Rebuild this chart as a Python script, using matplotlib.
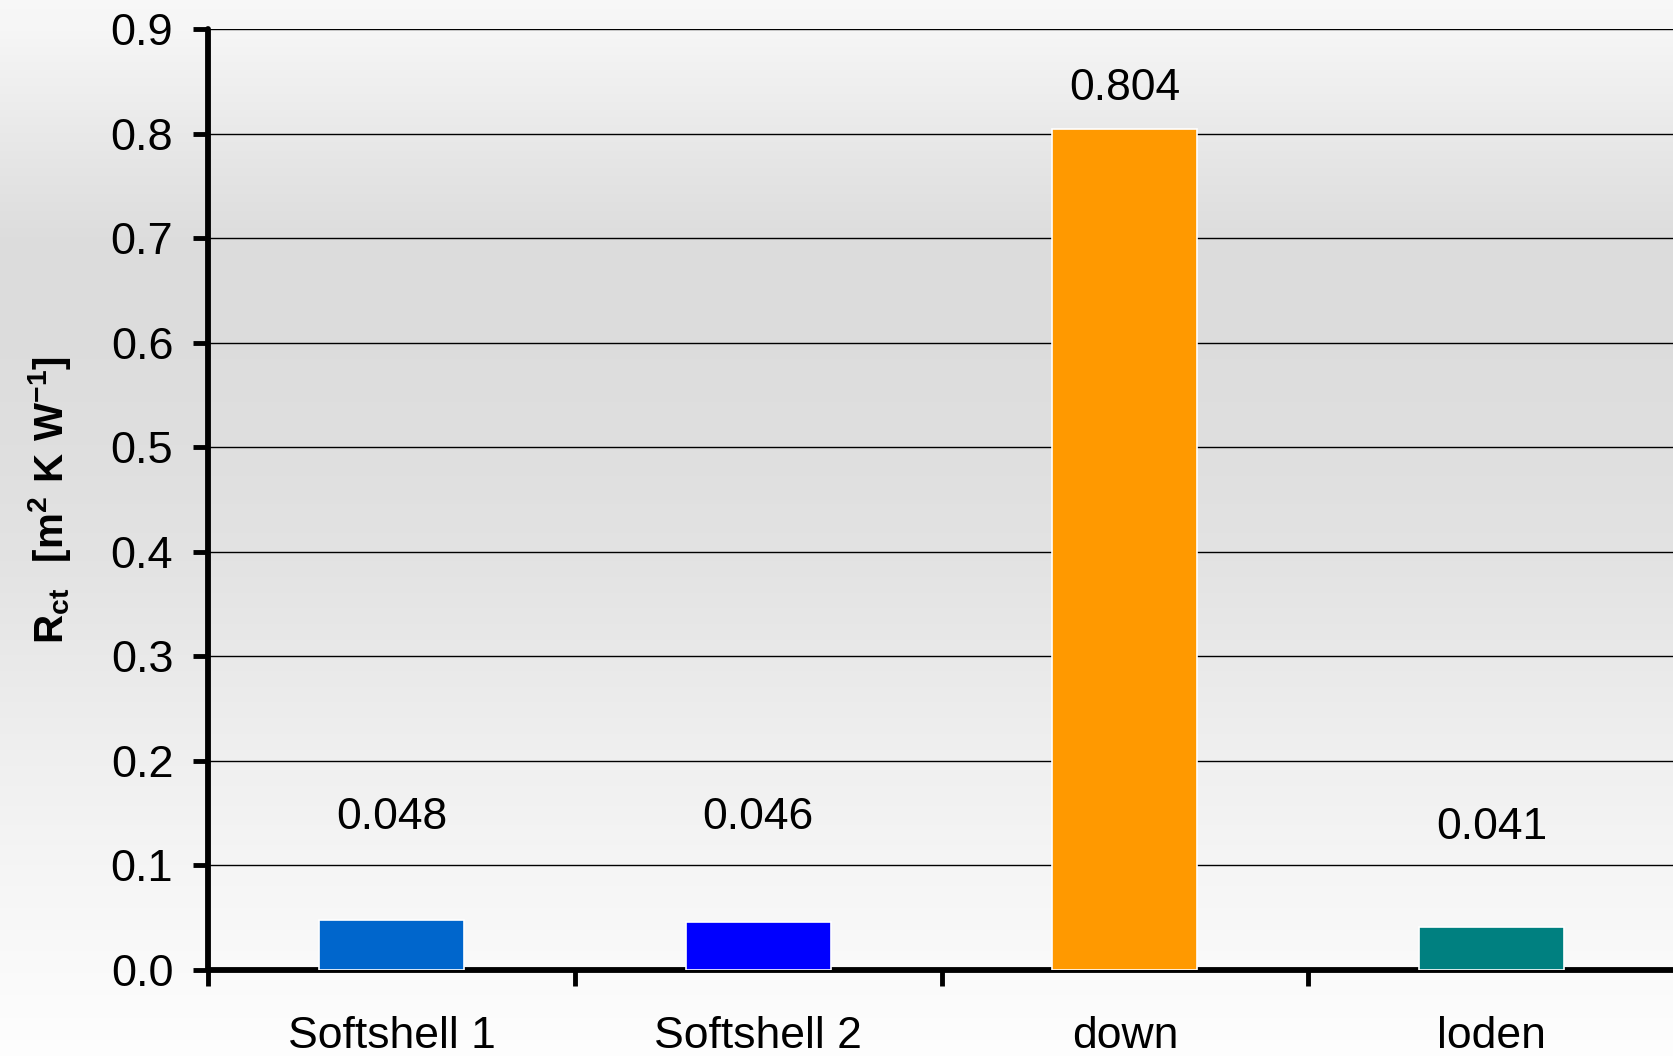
import numpy as np
import matplotlib
matplotlib.use("Agg")
import matplotlib.pyplot as plt

# Thermal resistance of the tested garments
categories = ["Softshell 1", "Softshell 2", "down", "loden"]
rct_values = [0.048, 0.046, 0.804, 0.041]
value_labels = ["0.048", "0.046", "0.804", "0.041"]
bar_colors = ["#0066CC", "#0000FF", "#FF9900", "#008080"]
y_ticks = [0.0, 0.1, 0.2, 0.3, 0.4, 0.5, 0.6, 0.7, 0.8, 0.9]

# vertical gap between each bar top and its value label (data units)
label_gaps = [0.098, 0.100, 0.039, 0.095]

plt.rcParams["font.family"] = ["Liberation Sans", "DejaVu Sans"]
plt.rcParams["mathtext.fontset"] = "custom"
plt.rcParams["mathtext.rm"] = "Liberation Sans"
plt.rcParams["mathtext.bf"] = "Liberation Sans:bold"

W, H = 1673, 1056
fig = plt.figure(figsize=(W / 100, H / 100), dpi=100)
fig.patch.set_facecolor("white")

# soft grey vertical gradient behind everything
bg = fig.add_axes([0, 0, 1, 1], zorder=-10)
stops_px = [0, 30, 130, 240, 340, 450, 560, 660, 760, 860, 970, 1056]
stops_val = [0.97, 0.965, 0.915, 0.865, 0.865, 0.875, 0.89, 0.915, 0.94, 0.96, 0.98, 0.995]
rows = np.interp(np.arange(H), stops_px, stops_val)
grad = np.repeat(rows[:, None], 4, axis=1)
bg.imshow(np.dstack([grad, grad, grad]), aspect="auto", extent=[0, 1, 0, 1],
          origin="upper", interpolation="bilinear")
bg.set_axis_off()

left, bottom = 208 / W, 86 / H
ax = fig.add_axes([left, bottom, (1675 - 208) / W, 941 / H])
ax.patch.set_visible(False)

x = np.arange(len(categories))
ax.bar(x, rct_values, width=0.395, color=bar_colors, edgecolor="white",
       linewidth=1.2, zorder=3)

for xi, v, txt, gap in zip(x, rct_values, value_labels, label_gaps):
    ax.text(xi, v + gap, txt, ha="center", va="center", fontsize=32, zorder=4)

ax.set_xlim(-0.5, 3.5)
ax.set_ylim(0, 0.9)

ax.set_yticks(y_ticks)
ax.set_yticklabels([f"{t:.1f}" for t in y_ticks])
ax.yaxis.grid(True, color="black", linewidth=1.0, zorder=1)
ax.set_axisbelow(True)

# tick marks sit between categories, labels sit under the bars
ax.set_xticks([-0.5, 0.5, 1.5, 2.5, 3.5])
ax.set_xticklabels([])
ax.set_xticks(x, minor=True)
ax.set_xticklabels(categories, minor=True)
ax.tick_params(axis="x", which="major", direction="out", length=11.5, width=3.5,
               color="black")
ax.tick_params(axis="x", which="minor", length=0, pad=33, labelsize=32)
ax.tick_params(axis="y", direction="out", length=11, width=3.5, pad=14,
               labelsize=32.5, color="black")

for side in ("top", "right"):
    ax.spines[side].set_visible(False)
for side in ("left", "bottom"):
    ax.spines[side].set_linewidth(4.2)
    ax.spines[side].set_color("black")
    ax.spines[side].set_capstyle("round")

ax.set_ylabel(r"$\mathbf{R_{ct}\ \ [m^{2}\ K\ W^{-1}]}$", fontsize=29, labelpad=27)

fig.savefig("out.png", dpi=100, facecolor=fig.get_facecolor())
